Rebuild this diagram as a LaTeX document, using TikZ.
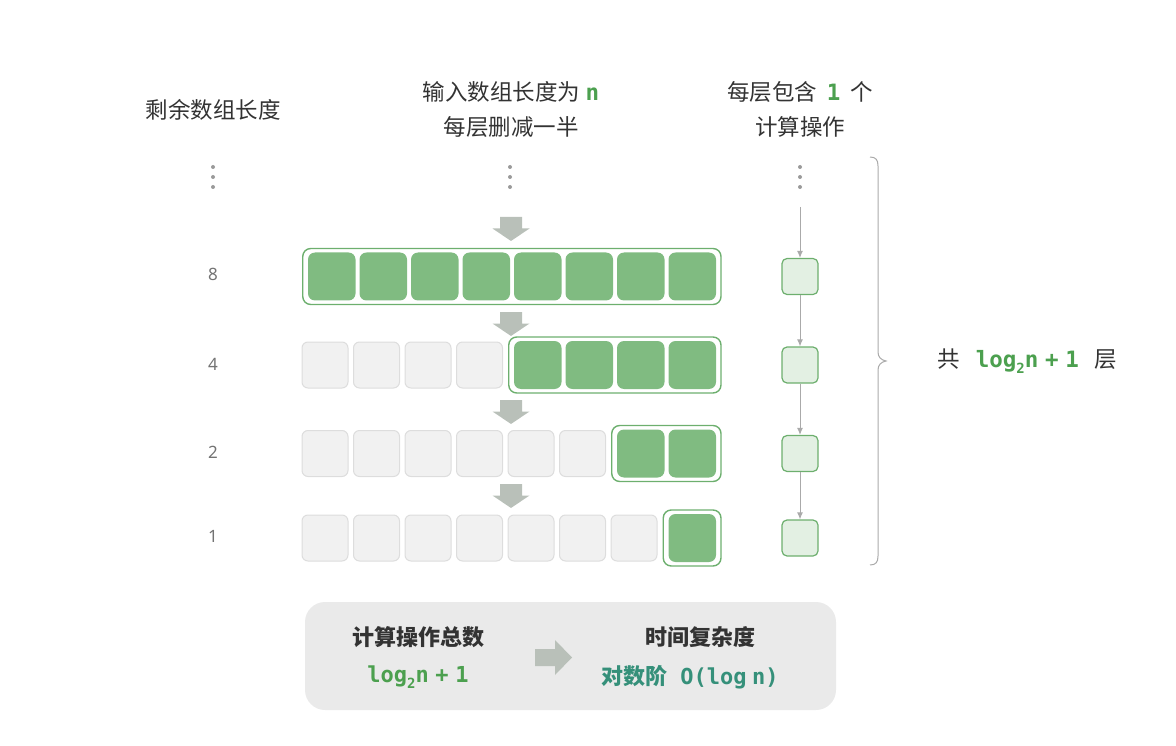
\documentclass[tikz,border=0pt]{standalone}
\usepackage{fontspec}
\setmainfont{Noto Sans CJK SC}
\newfontfamily\mono{DejaVu Sans Mono}
\newfontfamily\numfont{Noto Sans}
\definecolor{cellgreen}{HTML}{80BB81}
\definecolor{edgegreen}{HTML}{6DAF6E}
\definecolor{cellgray}{HTML}{F1F1F1}
\definecolor{edgegray}{HTML}{DDDDDD}
\definecolor{lightgreen}{HTML}{E3F0E3}
\definecolor{txtgreen}{HTML}{4CA04F}
\definecolor{txtteal}{HTML}{35907A}
\definecolor{arrowgray}{HTML}{B9C0B9}
\definecolor{linegray}{HTML}{AAAAAA}
\definecolor{dotgray}{HTML}{9A9A9A}
\definecolor{panelgray}{HTML}{EAEAEA}
\definecolor{txtdark}{HTML}{333333}
\newcommand{\lgtwo}{{\mono\bfseries log}\raisebox{-0.28em}{\mono\bfseries\fontsize{14}{14}\selectfont 2}{\mono\bfseries n}}
\newcommand{\lgexpr}{\lgtwo\hspace{0.3em}{\mono\bfseries +}\hspace{0.3em}{\mono\bfseries 1}}
\tikzset{
  graycell/.style={draw=edgegray, line width=1pt, fill=cellgray, rounded corners=6pt, minimum width=46pt, minimum height=46pt, inner sep=0pt},
  greencell/.style={fill=cellgreen, rounded corners=7pt, minimum width=47.5pt, minimum height=48pt, inner sep=0pt},
  outerbox/.style={draw=edgegreen, line width=1.4pt, rounded corners=8pt},
  opbox/.style={draw=edgegreen, line width=1.2pt, fill=lightgreen, rounded corners=5pt, minimum width=36pt, minimum height=36pt, inner sep=0pt},
  cjk/.style={font=\fontsize{22.5}{27}\selectfont, text=txtdark},
  bcjk/.style={font=\fontsize{22}{26}\selectfont\bfseries, text=txtdark},
  rowlabel/.style={font=\numfont\fontsize{17}{20}\selectfont, text=black!55},
  flow/.style={draw=linegray, line width=1pt, -{Latex[length=7pt,width=6pt]}},
  blockarrow/.style={fill=arrowgray},
  dots/.style={fill=dotgray}
}
\usetikzlibrary{arrows.meta}
\begin{document}
\begin{tikzpicture}[x=1pt,y=-1pt]
\useasboundingbox (0,0) rectangle (1176,746);
% header texts
\node[cjk] (hleft) at (213,110) {剩余数组长度};
\node[cjk] (hmid1) at (511,92) {输入数组长度为 {\mono\bfseries\color{txtgreen}n}};
\node[cjk] (hmid2) at (511,127) {每层删减一半};
\node[cjk] (hright1) at (800,92) {每层包含 \hspace{0.2em}{\mono\bfseries\color{txtgreen}1}\hspace{0.2em} 个};
\node[cjk] (hright2) at (800,127) {计算操作};
% dots
\foreach \x in {213,510,800}{
  \foreach \y in {167,177,187}{
    \fill[dots] (\x,\y) circle (2pt);
  }
}
% row labels
\node[rowlabel] (l8) at (213,274) {8};
\node[rowlabel] (l4) at (213,364) {4};
\node[rowlabel] (l2) at (213,452) {2};
\node[rowlabel] (l1) at (213,536) {1};
% rows
\foreach \r/\yy/\m in {1/276.5/8, 2/365/4, 3/453.5/2, 4/538/1}{
  \pgfmathtruncatemacro{\ng}{8-\m}
  \ifnum\ng>0
    \foreach \i in {1,...,\ng}{
      \node[graycell] (g\r-\i) at ({325+51.5*(\i-1)},\yy) {};
    }
  \fi
  \pgfmathsetmacro{\leftx}{692.25-51.5*(\m-1)-29}
  \draw[outerbox] (\leftx,\yy-28) rectangle (721,\yy+28);
  \foreach \j in {1,...,\m}{
    \node[greencell] (c\r-\j) at ({692.25-51.5*(\m-\j)},\yy) {};
  }
}
% down block arrows
\foreach \t in {217,312,400,484}{
  \fill[blockarrow] (500,\t) -- (522,\t) -- (522,\t+11.5) -- (529.5,\t+11.5) -- (511,\t+24) -- (492.5,\t+11.5) -- (500,\t+11.5) -- cycle;
}
% operation boxes
\node[opbox] (o1) at (800,276.5) {};
\node[opbox] (o2) at (800,365) {};
\node[opbox] (o3) at (800,453.5) {};
\node[opbox] (o4) at (800,538) {};
\coordinate (otop) at (800,207);
\draw[flow] (otop) -- (o1.north);
\draw[flow] (o1.south) -- (o2.north);
\draw[flow] (o2.south) -- (o3.north);
\draw[flow] (o3.south) -- (o4.north);
% brace
\draw[linegray, line width=1pt] (870,157) .. controls (876,157) and (878,160) .. (878,166)
  -- (878,352) .. controls (878,357) and (881,360) .. (886,361)
  .. controls (881,362) and (878,365) .. (878,370)
  -- (878,556) .. controls (878,562) and (876,565) .. (870,565);
\node[cjk, anchor=west] (total) at (934,361) {共\hspace{0.7em}{\color{txtgreen}\lgexpr}\hspace{0.7em}层};
% bottom panel
\fill[panelgray, rounded corners=20pt] (305,602) rectangle (836,710);
\node[bcjk] (ops) at (418,637) {计算操作总数};
\node[font=\fontsize{22}{26}\selectfont, text=txtgreen] (opsv) at (418,677) {\lgexpr};
\fill[blockarrow] (535,649) -- (555,649) -- (555,640) -- (572,657.5) -- (555,675) -- (555,666) -- (535,666) -- cycle;
\node[bcjk] (tc) at (700,637) {时间复杂度};
\node[font=\fontsize{22}{26}\selectfont\bfseries, text=txtteal] (tcv) at (690,677) {对数阶\hspace{0.6em}{\mono O(log\hspace{0.25em}n)}};
\end{tikzpicture}
\end{document}
